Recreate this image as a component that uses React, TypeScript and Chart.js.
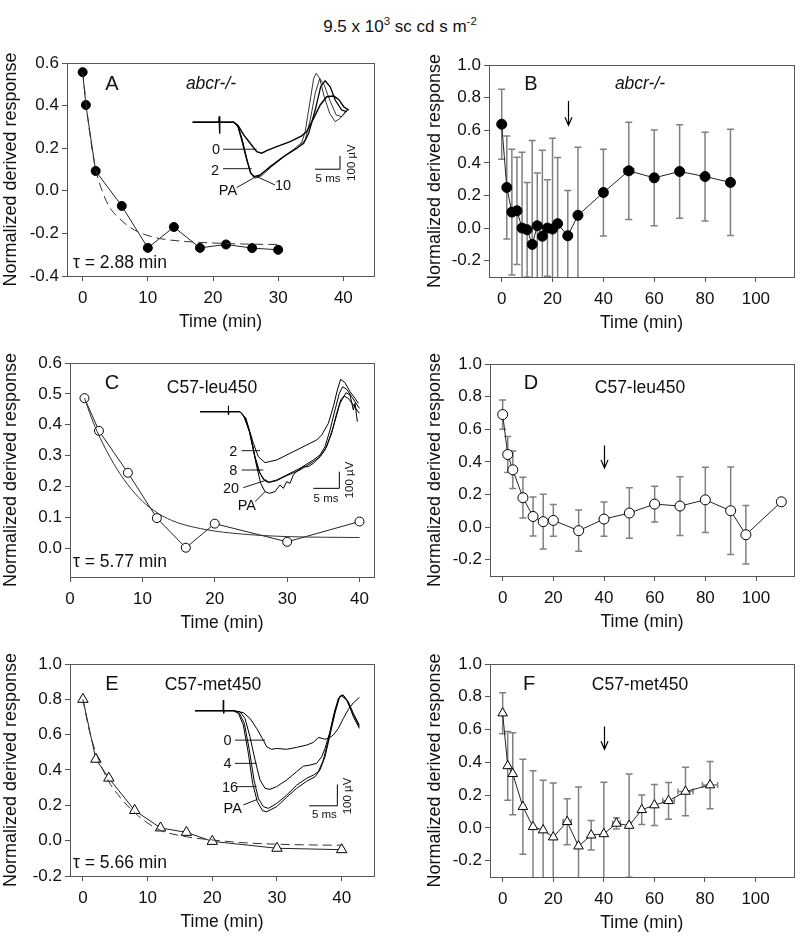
import React, { useEffect, useRef } from 'react';
import { Chart, registerables } from 'chart.js';
Chart.register(...registerables);

const FONT = '"Liberation Sans", Arial, Helvetica, sans-serif';
Chart.defaults.font.family = FONT;

// ---------- Panel A (abcr-/-) ----------
const aTime = [0, 0.5, 2, 6, 10, 14, 18, 22, 26, 30];
const aResp = [0.557, 0.403, 0.093, -0.071, -0.268, -0.17, -0.268, -0.252, -0.269, -0.277];
const aFitTime = [0, 1, 2, 3, 4, 6, 8, 10, 12, 15, 20, 25, 30];
const aFitResp = [0.557, 0.29, 0.1, 0.0, -0.07, -0.14, -0.185, -0.21, -0.225, -0.236, -0.245, -0.25, -0.252];

// ---------- Panel B (abcr-/-) ----------
const bTime = [0, 2, 4, 6, 8, 10, 12, 14, 16, 18, 20, 22, 26, 30, 40, 50, 60, 70, 80, 90];
const bResp = [0.637, 0.249, 0.098, 0.106, 0.0, -0.01, -0.1, 0.014, -0.05, 0.0, -0.006, 0.027, -0.047, 0.078, 0.218, 0.351, 0.308, 0.347, 0.316, 0.28];
const bErr = [0.215, 0.316, 0.386, 0.329, 0.465, 0.29, 0.637, 0.323, 0.528, 0.296, 0.557, 0.406, 0.278, 0.418, 0.266, 0.298, 0.294, 0.286, 0.272, 0.326];
const bTimeErr = [0, 0, 0, 0, 0, 0, 0, 0, 0, 0, 0, 0, 0, 0, 0, 2, 0, 1.5, 0, 0];

// ---------- Panel C (C57-leu450) ----------
const cTime = [2, 4, 8, 12, 16, 20, 30, 40];
const cResp = [0.486, 0.38, 0.244, 0.097, 0.001, 0.079, 0.02, 0.086];
const cFitTime = [2, 3, 4, 6, 8, 10, 12, 14, 16, 20, 25, 30, 35, 40];
const cFitResp = [0.486, 0.42, 0.365, 0.275, 0.205, 0.152, 0.115, 0.09, 0.074, 0.055, 0.043, 0.037, 0.035, 0.034];

// ---------- Panel D (C57-leu450) ----------
const dTime = [0, 2, 4, 8, 12, 16, 20, 30, 40, 50, 60, 70, 80, 90, 96, 110];
const dResp = [0.69, 0.445, 0.351, 0.18, 0.065, 0.033, 0.041, -0.022, 0.049, 0.086, 0.141, 0.129, 0.167, 0.1, -0.047, 0.155];
const dErr = [0.09, 0.11, 0.115, 0.125, 0.12, 0.168, 0.097, 0.126, 0.105, 0.155, 0.11, 0.18, 0.2, 0.268, 0.18, 0];

// ---------- Panel E (C57-met450) ----------
const eTime = [0, 2, 4, 8, 12, 16, 20, 30, 40];
const eResp = [0.8, 0.461, 0.354, 0.171, 0.072, 0.047, -0.004, -0.043, -0.051];
const eFitTime = [0, 1, 2, 4, 6, 8, 10, 12, 16, 20, 25, 30, 35, 40];
const eFitResp = [0.8, 0.62, 0.5, 0.335, 0.235, 0.158, 0.1, 0.058, 0.022, 0.004, -0.012, -0.02, -0.024, -0.026];

// ---------- Panel F (C57-met450) ----------
const fTime = [0, 2, 4, 8, 12, 16, 20, 25.5, 30, 35, 40, 45, 50, 55, 60, 65.6, 72.3, 82];
const fResp = [0.7, 0.378, 0.33, 0.129, 0.006, -0.014, -0.057, 0.037, -0.112, -0.045, -0.037, 0.027, 0.014, 0.11, 0.139, 0.165, 0.222, 0.261];
const fErr = [0.125, 0.21, 0.25, 0.29, 0.343, 0.304, 0.33, 0.14, 0.361, 0.09, 0.315, 0.034, 0.315, 0.09, 0.125, 0.112, 0.148, 0.144];
const fTimeErr = [0, 0, 0, 0, 0, 0, 0, 1.6, 0, 0, 0, 1.5, 0, 0, 0, 2.3, 3, 3];

// ---------- tick values ----------
const ticksShortX = [0, 10, 20, 30, 40];
const ticksLongX = [0, 20, 40, 60, 80, 100];
const ticksYA = [-0.4, -0.2, 0, 0.2, 0.4, 0.6];
const ticksYC = [0, 0.1, 0.2, 0.3, 0.4, 0.5, 0.6];
const ticksYE = [-0.2, 0, 0.2, 0.4, 0.6, 0.8, 1.0];
const ticksYRight = [-0.2, 0, 0.2, 0.4, 0.6, 0.8, 1.0];

// ---------- arrows (time, start response, tip response) ----------
const arrowB = [26, 0.78, 0.63];
const arrowD = [40, 0.5, 0.363];
const arrowF = [40, 0.618, 0.48];

// ---------- inset ERG traces: [time ms, voltage µV] ----------
const insetA0 = [[0, 0], [5.2, 0], [5.3, 45], [5.35, -85], [5.45, 0], [8.2, 0], [9.2, -32], [10.2, -95], [11.5, -157], [12.8, -220], [13.8, -232], [14.8, -212], [16.8, -182], [19.5, -145], [21.8, -102], [22.8, -70], [24.2, 30], [25.5, 130], [26.8, 192], [28.2, 197], [29.2, 172], [30.2, 117], [31.2, 92]];
const insetA2 = [[0, 0], [8.2, 0], [9, -25], [9.8, -132], [10.8, -282], [11.6, -382], [12.3, -407], [13.5, -395], [15.5, -332], [18.2, -257], [20.8, -195], [22.2, -157], [23.2, -82], [24.5, 92], [25.6, 267], [26.5, 312], [27.5, 267], [28.5, 167], [29.8, 92], [30.8, 80]];
const insetA10 = [[0, 0], [8.2, 0], [9, -22], [9.9, -127], [10.8, -270], [11.6, -382], [12.5, -420], [13.8, -400], [15.8, -332], [18.5, -252], [21.2, -187], [22.5, -132], [23.5, 17], [24.5, 217], [25.4, 327], [26.3, 280], [27.4, 167], [28.7, 55], [29.8, 42], [31, 92]];
const insetAPA = [[0, 0], [8.2, 0], [9, -20], [9.8, -120], [10.7, -257], [11.5, -370], [12.2, -412], [13.2, -407], [14.8, -357], [17.5, -277], [20.2, -202], [21.8, -152], [22.5, -70], [23.4, 142], [24.2, 330], [24.7, 367], [25.4, 330], [26.3, 192], [27.4, 67], [28.5, 5], [29.5, 30], [30.8, 92]];
const insetALeaders = [[[6.06, -202], [12.8, -202]], [[6.06, -348], [11.8, -348]], [[8.8, -490], [12.46, -412]], [[16.46, -470], [12.8, -408]]];
const insetABar = [[24.46, -352], [29.46, -352], [29.46, -252]];
const insetALabels = ['0', '2', 'PA', '10'];
const insetALabelPos = [[4.66, -208], [4.46, -365], [7.06, -515], [18.06, -478]];
const insetABarLabelPos = [[27.06, -425], [31.8, -302]];

const insetC2 = [[0, 0], [5.4, 0], [5.45, 35], [5.5, -20], [5.6, 0], [7.69, 0], [8.33, -20], [9.29, -90], [10.26, -190], [11.22, -270], [12.5, -306], [14.74, -290], [17.3, -250], [19.23, -220], [21.15, -190], [22.44, -170], [23.4, -140], [24.68, -70], [25.64, 30], [26.41, 130], [27.05, 194], [27.88, 174], [28.85, 120], [29.81, 80], [30.45, 50]];
const insetC8 = [[0, 0], [7.69, 0], [8.46, -30], [9.49, -120], [10.38, -250], [11.22, -350], [12.18, -406], [13.33, -422], [14.74, -410], [16.67, -380], [19.23, -340], [21.79, -290], [23.08, -260], [24.04, -210], [25.0, -110], [25.96, 10], [26.79, 110], [27.44, 150], [28.21, 134], [29.17, 90], [30.64, 20]];
const insetC20 = [[0, 0], [7.69, 0], [8.65, -34], [9.62, -130], [10.58, -270], [11.54, -370], [12.5, -414], [13.14, -426], [14.74, -414], [16.67, -384], [19.23, -350], [21.79, -300], [23.08, -270], [24.04, -230], [25.32, -130], [26.28, -10], [27.05, 70], [27.69, 94], [28.53, 80], [29.49, 40], [30.64, -10]];
const insetCPA = [[0, 0], [7.69, 0], [8.85, -40], [9.81, -150], [10.77, -310], [11.67, -430], [12.5, -480], [13.33, -490], [14.42, -480], [15.38, -440], [16.03, -460], [16.67, -420], [17.3, -430], [17.95, -380], [18.91, -350], [19.87, -330], [20.83, -330], [21.79, -310], [23.08, -270], [24.36, -210], [25.64, -90], [26.92, 50], [28.08, 114], [28.85, 100], [29.49, 10], [29.81, 50], [30.26, -60]];
const insetCLeaders = [[[8.01, -234], [11.54, -234]], [[8.01, -350], [12.18, -350]], [[8.33, -456], [12.82, -410]], [[10.58, -540], [12.5, -480]]];
const insetCBar = [[21.79, -460], [26.79, -460], [26.79, -360]];
const insetCLabels = ['2', '8', '20', 'PA'];
const insetCLabelPos = [[6.41, -240], [6.41, -356], [5.96, -466], [9.0, -564]];
const insetCBarLabelPos = [[24.23, -520], [28.72, -410]];

const insetE0 = [[0, 0], [5.0, 0], [5.06, 50], [5.12, -12], [5.2, 0], [6.85, 0], [8.63, -9], [9.82, -36], [11.01, -83], [12.2, -138], [12.8, -169], [13.69, -181], [14.58, -177], [16.37, -181], [18.16, -172], [19.94, -161], [21.13, -149], [22.03, -125], [23.22, -134], [24.11, -125], [24.7, -114], [25.6, -83], [26.49, -36], [27.38, 6], [28.28, 37], [29.35, 62]];
const insetE4 = [[0, 0], [6.85, 0], [8.04, -5], [8.93, -36], [9.82, -122], [10.72, -231], [11.61, -325], [12.5, -364], [13.39, -369], [14.58, -356], [16.37, -325], [18.16, -286], [19.35, -260], [20.54, -255], [21.73, -247], [22.62, -216], [23.22, -177], [24.11, -98], [25.0, 3], [25.89, 69], [26.49, 73], [27.38, 42], [28.28, -12], [29.35, -67]];
const insetE16 = [[0, 0], [6.85, 0], [7.92, -12], [8.81, -59], [9.7, -184], [10.54, -325], [11.31, -411], [12.2, -450], [13.1, -458], [14.58, -435], [16.37, -396], [18.16, -349], [19.94, -317], [21.13, -302], [22.03, -286], [22.92, -231], [23.81, -138], [24.7, -28], [25.6, 58], [26.19, 69], [27.08, 50], [28.28, -20], [29.35, -75]];
const insetEPA = [[0, 0], [6.85, 0], [7.74, -12], [8.63, -67], [9.53, -200], [10.3, -341], [11.13, -427], [12.08, -469], [12.8, -474], [14.58, -450], [16.37, -406], [18.16, -364], [19.94, -331], [21.43, -310], [22.32, -278], [23.22, -216], [24.11, -114], [25.0, -12], [25.78, 62], [26.37, 75], [27.2, 47], [28.28, -28], [29.35, -83]];
const insetELeaders = [[[7.14, -138], [12.5, -138]], [[7.14, -247], [11.01, -247]], [[7.44, -356], [11.01, -356]], [[8.63, -442], [11.13, -416]]];
const insetEBar = [[20.42, -446], [25.42, -446], [25.42, -346]];
const insetELabels = ['0', '4', '16', 'PA'];
const insetELabelPos = [[5.83, -142], [5.83, -250], [6.25, -361], [6.73, -461]];
const insetEBarLabelPos = [[23.1, -489], [27.38, -400]];

type Pt = { x: number; y: number };
const pts = (xs: number[], ys: number[]): Pt[] => xs.map((x, i) => ({ x, y: ys[i] }));
const pairs = (arr: number[][]): Pt[] => arr.map(([x, y]) => ({ x, y }));

const TEXT = '#111';
const AXIS = '#555';

function fitLine(xs: number[], ys: number[], dashed: boolean) {
  return {
    data: pts(xs, ys),
    borderColor: '#333',
    borderWidth: 1,
    borderDash: dashed ? [9, 5] : [],
    pointRadius: 0,
    cubicInterpolationMode: 'monotone',
    fill: false,
  };
}
function dataLine(xs: number[], ys: number[], style: string, filled: boolean, r: number, yErr?: number[], xErr?: number[]) {
  return {
    data: pts(xs, ys),
    borderColor: '#222',
    borderWidth: 1,
    tension: 0,
    pointStyle: style,
    pointRadius: r,
    pointBorderWidth: 1,
    pointBorderColor: '#000',
    pointBackgroundColor: filled ? '#000' : '#fff',
    fill: false,
    yErr,
    xErr,
  };
}

type PanelSpec = {
  box: { left: number; top: number; width: number; height: number };
  area: { l: number; t: number; r: number; b: number };
  yTitleX: number;
  xMin: number; xMax: number; yMin: number; yMax: number;
  xTicks: number[]; yTicks: number[];
  datasets: any[];
  arrow?: number[];
};

function extrasPlugin(arrow?: number[]) {
  return {
    id: 'panelExtras',
    beforeDatasetsDraw(chart: any) {
      const { ctx, chartArea: ca } = chart;
      const xs = chart.scales.x, ys = chart.scales.y;
      ctx.save();
      ctx.beginPath();
      ctx.rect(ca.left, ca.top, ca.right - ca.left, ca.bottom - ca.top);
      ctx.clip();
      ctx.strokeStyle = '#808080';
      ctx.lineWidth = 1.5;
      chart.data.datasets.forEach((ds: any) => {
        if (!ds.yErr && !ds.xErr) return;
        ds.data.forEach((p: Pt, i: number) => {
          const px = xs.getPixelForValue(p.x);
          const py = ys.getPixelForValue(p.y);
          const ye = ds.yErr ? ds.yErr[i] : 0;
          if (ye) {
            const t = ys.getPixelForValue(p.y + ye);
            const b = ys.getPixelForValue(p.y - ye);
            ctx.beginPath();
            ctx.moveTo(px, t); ctx.lineTo(px, b);
            ctx.moveTo(px - 3.5, t); ctx.lineTo(px + 3.5, t);
            ctx.moveTo(px - 3.5, b); ctx.lineTo(px + 3.5, b);
            ctx.stroke();
          }
          const xe = ds.xErr ? ds.xErr[i] : 0;
          if (xe) {
            const l = xs.getPixelForValue(p.x - xe);
            const r = xs.getPixelForValue(p.x + xe);
            ctx.beginPath();
            ctx.moveTo(l, py); ctx.lineTo(r, py);
            ctx.moveTo(l, py - 3); ctx.lineTo(l, py + 3);
            ctx.moveTo(r, py - 3); ctx.lineTo(r, py + 3);
            ctx.stroke();
          }
        });
      });
      ctx.restore();
    },
    afterDraw(chart: any) {
      const { ctx, chartArea: ca } = chart;
      ctx.save();
      ctx.strokeStyle = AXIS;
      ctx.lineWidth = 1;
      ctx.strokeRect(Math.round(ca.left) + 0.5, Math.round(ca.top) + 0.5, Math.round(ca.right - ca.left), Math.round(ca.bottom - ca.top));
      if (arrow) {
        const xs = chart.scales.x, ys = chart.scales.y;
        const ax = Math.round(xs.getPixelForValue(arrow[0])) + 0.5;
        const y1 = ys.getPixelForValue(arrow[1]);
        const y2 = ys.getPixelForValue(arrow[2]);
        ctx.strokeStyle = '#000';
        ctx.lineWidth = 1.2;
        ctx.beginPath();
        ctx.moveTo(ax, y1); ctx.lineTo(ax, y2);
        ctx.moveTo(ax - 3.5, y2 - 8); ctx.lineTo(ax, y2); ctx.lineTo(ax + 3.5, y2 - 8);
        ctx.stroke();
      }
      ctx.restore();
    },
  };
}

function Panel({ spec }: { spec: PanelSpec }) {
  const ref = useRef<HTMLCanvasElement>(null);
  useEffect(() => {
    const { box, area } = spec;
    const yAxisW = area.l - box.left;
    const xAxisH = box.top + box.height - area.b;
    const chart = new Chart(ref.current as HTMLCanvasElement, {
      type: 'line',
      data: { datasets: spec.datasets },
      options: {
        animation: false,
        responsive: false,
        maintainAspectRatio: false,
        devicePixelRatio: 1,
        events: [],
        layout: { padding: { left: 0, top: area.t - box.top, right: box.left + box.width - area.r, bottom: 0 } },
        plugins: { legend: { display: false }, tooltip: { enabled: false } },
        scales: {
          x: {
            type: 'linear',
            min: spec.xMin,
            max: spec.xMax,
            afterBuildTicks: (s: any) => { s.ticks = spec.xTicks.map((v) => ({ value: v })); },
            afterFit: (s: any) => { s.height = xAxisH; },
            grid: { drawOnChartArea: false, drawTicks: true, tickLength: 5, color: AXIS },
            border: { display: true, color: AXIS, width: 1 },
            ticks: { font: { size: 17, family: FONT }, color: TEXT, padding: 7, maxRotation: 0, autoSkip: false, callback: (v: any) => String(v) },
            title: { display: true, text: 'Time (min)', font: { size: 17.5, family: FONT }, color: TEXT, padding: { top: 0, bottom: xAxisH - 46 - 10.5 } },
          },
          y: {
            type: 'linear',
            min: spec.yMin,
            max: spec.yMax,
            afterBuildTicks: (s: any) => { s.ticks = spec.yTicks.map((v) => ({ value: v })); },
            afterFit: (s: any) => { s.width = yAxisW; },
            grid: { drawOnChartArea: false, drawTicks: true, tickLength: 5, color: AXIS },
            border: { display: true, color: AXIS, width: 1 },
            ticks: { font: { size: 17, family: FONT }, color: TEXT, padding: 3, autoSkip: false, callback: (v: any) => Number(v).toFixed(1) },
            title: { display: true, text: 'Normalized derived response', font: { size: 18, family: FONT }, color: TEXT, padding: { top: spec.yTitleX - box.left - 10.8, bottom: 0 } },
          },
        },
      } as any,
      plugins: [extrasPlugin(spec.arrow)],
    });
    return () => chart.destroy();
  }, []);
  const { box } = spec;
  return (
    <canvas
      ref={ref}
      width={box.width}
      height={box.height}
      style={{ position: 'absolute', left: box.left, top: box.top, width: box.width, height: box.height }}
    />
  );
}

type InsetSpec = {
  box: { left: number; top: number; width: number; height: number };
  tMin: number; tMax: number; vMin: number; vMax: number;
  traces: number[][][];
  traceWidths: number[];
  leaders: number[][][];
  bar: number[][];
  labels: string[];
  labelPos: number[][];
  barLabelPos: number[][];
};

function Inset({ spec }: { spec: InsetSpec }) {
  const ref = useRef<HTMLCanvasElement>(null);
  useEffect(() => {
    const line = (arr: number[][], w: number) => ({
      data: pairs(arr), borderColor: '#000', borderWidth: w, pointRadius: 0, tension: 0, fill: false,
    });
    const datasets = [
      ...spec.traces.map((t, i) => line(t, spec.traceWidths[i])),
      ...spec.leaders.map((l) => line(l, 0.9)),
      line(spec.bar, 1),
    ];
    const labelPlugin = {
      id: 'insetLabels',
      afterDatasetsDraw(chart: any) {
        const { ctx } = chart;
        const xs = chart.scales.x, ys = chart.scales.y;
        const put = (text: string, p: number[], size: number, rot: boolean) => {
          ctx.save();
          ctx.font = `${size}px ${FONT}`;
          ctx.fillStyle = TEXT;
          ctx.textAlign = 'center';
          ctx.textBaseline = 'middle';
          ctx.translate(xs.getPixelForValue(p[0]), ys.getPixelForValue(p[1]));
          if (rot) ctx.rotate(-Math.PI / 2);
          ctx.fillText(text, 0, 0);
          ctx.restore();
        };
        spec.labels.forEach((t, i) => put(t, spec.labelPos[i], 14.5, false));
        put('5 ms', spec.barLabelPos[0], 11.5, false);
        put('100 µV', spec.barLabelPos[1], 11.5, true);
      },
    };
    const chart = new Chart(ref.current as HTMLCanvasElement, {
      type: 'line',
      data: { datasets },
      options: {
        animation: false,
        responsive: false,
        maintainAspectRatio: false,
        devicePixelRatio: 1,
        events: [],
        layout: { padding: 0 },
        plugins: { legend: { display: false }, tooltip: { enabled: false } },
        scales: {
          x: { type: 'linear', display: false, min: spec.tMin, max: spec.tMax },
          y: { type: 'linear', display: false, min: spec.vMin, max: spec.vMax },
        },
      } as any,
      plugins: [labelPlugin],
    });
    return () => chart.destroy();
  }, []);
  const { box } = spec;
  return (
    <canvas
      ref={ref}
      width={box.width}
      height={box.height}
      style={{ position: 'absolute', left: box.left, top: box.top, width: box.width, height: box.height }}
    />
  );
}

const panels: PanelSpec[] = [
  {
    box: { left: 0, top: 40, width: 400, height: 300 }, area: { l: 67, t: 63, r: 374, b: 276 }, yTitleX: 11,
    xMin: -2.4, xMax: 44.7, yMin: -0.4, yMax: 0.6, xTicks: ticksShortX, yTicks: ticksYA,
    datasets: [fitLine(aFitTime, aFitResp, true), dataLine(aTime, aResp, 'circle', true, 4.5)],
  },
  {
    box: { left: 400, top: 40, width: 400, height: 300 }, area: { l: 489, t: 65, r: 794, b: 277 }, yTitleX: 435,
    xMin: -5, xMax: 115, yMin: -0.3, yMax: 1.0, xTicks: ticksLongX, yTicks: ticksYRight,
    datasets: [dataLine(bTime, bResp, 'circle', true, 5, bErr, bTimeErr)], arrow: arrowB,
  },
  {
    box: { left: 0, top: 340, width: 400, height: 300 }, area: { l: 70, t: 363, r: 374, b: 577 }, yTitleX: 11,
    xMin: 0, xMax: 42, yMin: -0.094, yMax: 0.6, xTicks: ticksShortX, yTicks: ticksYC,
    datasets: [fitLine(cFitTime, cFitResp, false), dataLine(cTime, cResp, 'circle', false, 4.5)],
  },
  {
    box: { left: 400, top: 340, width: 400, height: 300 }, area: { l: 490, t: 364, r: 794, b: 576 }, yTitleX: 435,
    xMin: -5, xMax: 115, yMin: -0.3, yMax: 1.0, xTicks: ticksLongX, yTicks: ticksYRight,
    datasets: [dataLine(dTime, dResp, 'circle', false, 5, dErr)], arrow: arrowD,
  },
  {
    box: { left: 0, top: 640, width: 400, height: 298 }, area: { l: 70, t: 664, r: 374, b: 876 }, yTitleX: 11,
    xMin: -2, xMax: 45, yMin: -0.2, yMax: 1.0, xTicks: ticksShortX, yTicks: ticksYE,
    datasets: [fitLine(eFitTime, eFitResp, true), dataLine(eTime, eResp, 'triangle', false, 6)],
  },
  {
    box: { left: 400, top: 640, width: 400, height: 298 }, area: { l: 490, t: 664, r: 794, b: 877 }, yTitleX: 435,
    xMin: -5, xMax: 115, yMin: -0.3, yMax: 1.0, xTicks: ticksLongX, yTicks: ticksYRight,
    datasets: [dataLine(fTime, fResp, 'triangle', false, 5.5, fErr, fTimeErr)], arrow: arrowF,
  },
];

const insets: InsetSpec[] = [
  {
    box: { left: 185, top: 65, width: 185, height: 135 }, tMin: -1.54, tMax: 35.46, vMin: -583, vMax: 430,
    traces: [insetA0, insetA2, insetA10, insetAPA], traceWidths: [1.4, 1.3, 0.8, 0.8],
    leaders: insetALeaders, bar: insetABar, labels: insetALabels, labelPos: insetALabelPos, barLabelPos: insetABarLabelPos,
  },
  {
    box: { left: 190, top: 375, width: 180, height: 135 }, tMin: -1.92, tMax: 32.69, vMin: -590, vMax: 220,
    traces: [insetC2, insetC8, insetC20, insetCPA], traceWidths: [1, 1, 1, 1],
    leaders: insetCLeaders, bar: insetCBar, labels: insetCLabels, labelPos: insetCLabelPos, barLabelPos: insetCBarLabelPos,
  },
  {
    box: { left: 190, top: 688, width: 180, height: 142 }, tMin: -0.89, tMax: 31.25, vMin: -559.5, vMax: 106.5,
    traces: [insetE0, insetE4, insetE16, insetEPA], traceWidths: [1, 1, 1, 1],
    leaders: insetELeaders, bar: insetEBar, labels: insetELabels, labelPos: insetELabelPos, barLabelPos: insetEBarLabelPos,
  },
];

function Txt({ x, y, size, children, italic, left }: { x: number; y: number; size: number; children: React.ReactNode; italic?: boolean; left?: boolean }) {
  return (
    <div
      style={{
        position: 'absolute', left: x, top: y,
        transform: left ? 'translate(0,-50%)' : 'translate(-50%,-50%)',
        fontFamily: FONT, fontSize: size, fontStyle: italic ? 'italic' : 'normal',
        whiteSpace: 'nowrap', lineHeight: 1, color: TEXT,
      }}
    >
      {children}
    </div>
  );
}

export default function App() {
  return (
    <div style={{ position: 'absolute', left: 0, top: 0, width: 800, height: 938, background: '#fff', overflow: 'hidden' }}>
      <div style={{ position: 'absolute', left: 0, top: 8, width: 800, textAlign: 'center', fontFamily: FONT, fontSize: 17, lineHeight: '26px', color: TEXT }}>
        9.5 x 10<sup style={{ fontSize: 11.5 }}>3</sup> sc cd s m<sup style={{ fontSize: 11.5 }}>-2</sup>
      </div>
      {panels.map((p, i) => <Panel key={i} spec={p} />)}
      {insets.map((p, i) => <Inset key={'i' + i} spec={p} />)}
      <Txt x={112} y={83} size={20}>A</Txt>
      <Txt x={211} y={84} size={17.5} italic>abcr-/-</Txt>
      <Txt x={73} y={263} size={17.5} left>τ = 2.88 min</Txt>
      <Txt x={531} y={83} size={20}>B</Txt>
      <Txt x={640} y={84} size={17.5} italic>abcr-/-</Txt>
      <Txt x={112} y={382} size={20}>C</Txt>
      <Txt x={212} y={388} size={17.5}>C57-leu450</Txt>
      <Txt x={73} y={562} size={17.5} left>τ = 5.77 min</Txt>
      <Txt x={531} y={382} size={20}>D</Txt>
      <Txt x={640} y={388} size={17.5}>C57-leu450</Txt>
      <Txt x={112} y={683} size={20}>E</Txt>
      <Txt x={213} y={685} size={17.5}>C57-met450</Txt>
      <Txt x={73} y={863} size={17.5} left>τ = 5.66 min</Txt>
      <Txt x={529} y={683} size={20}>F</Txt>
      <Txt x={640} y={685} size={17.5}>C57-met450</Txt>
    </div>
  );
}
